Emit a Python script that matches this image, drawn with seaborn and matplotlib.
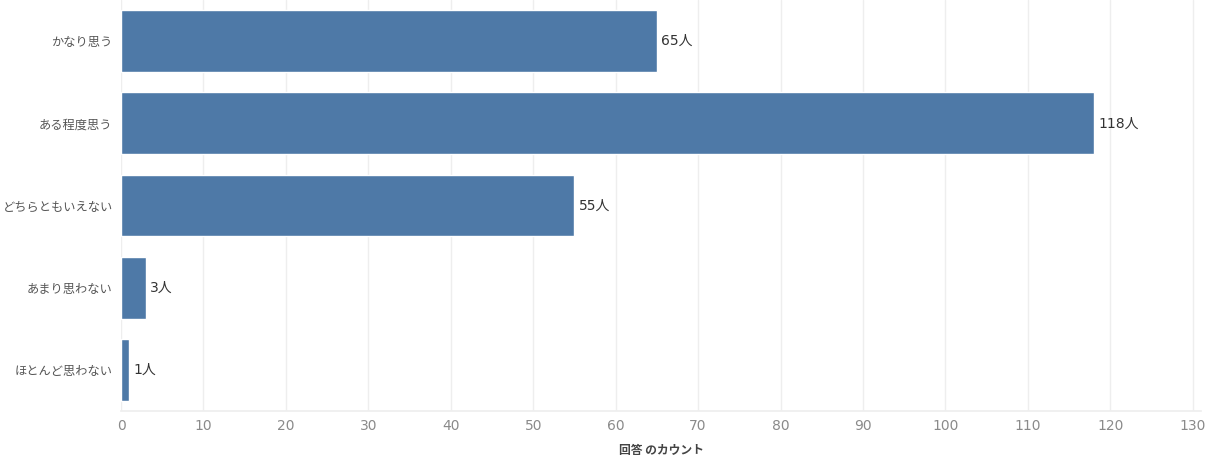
import matplotlib
matplotlib.use("Agg")
import matplotlib.pyplot as plt
import seaborn as sns
import pandas as pd

categories = ["かなり思う", "ある程度思う", "どちらともいえない", "あまり思わない", "ほとんど思わない"]
counts = [65, 118, 55, 3, 1]
x_ticks = list(range(0, 131, 10))
x_label = "回答 のカウント"

sns.set_theme(style="white")
plt.rcParams['font.family'] = ['Noto Sans CJK JP', 'DejaVu Sans']
num_family = ['DejaVu Sans', 'Noto Sans CJK JP']

df = pd.DataFrame({"cat": categories, "n": counts})

fig = plt.figure(figsize=(12.08, 4.59), dpi=100)
ax = fig.add_axes([121/1208, 48/459, (1201-121)/1208, 411/459])

sns.barplot(data=df, y="cat", x="n", color="#4E79A7", saturation=1, width=0.75, ax=ax, orient="h")

ax.set_xlim(0, 131)
ax.set_ylim(4.5, -0.5)
ax.set_xticks(x_ticks)
ax.set_xticklabels([str(t) for t in x_ticks], color="#8a8a8a", fontsize=10, family=num_family)
ax.tick_params(axis='y', labelsize=8.8, labelcolor="#555555", length=0, pad=6)
ax.tick_params(axis='x', length=0, pad=6)
ax.grid(axis='x', color="#eeeeee", linewidth=1)
ax.set_axisbelow(True)
for s in ["top", "right", "left"]:
    ax.spines[s].set_visible(False)
ax.spines["bottom"].set_color("#eeeeee")
ax.set_ylabel("")
ax.set_xlabel(x_label, fontsize=8.5, color="#444444", fontweight="bold", labelpad=8)

for i, v in enumerate(counts):
    ax.text(v + 0.5, i, f"{v}人", va="center", ha="left", fontsize=10, color="#333333", family=num_family)

fig.savefig("out.png", dpi=100)
